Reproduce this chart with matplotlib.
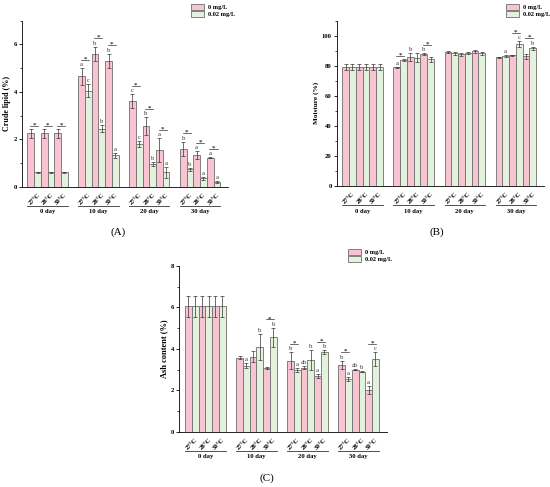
'''Bar charts of crude lipid, moisture and ash content by day and temperature'''
import matplotlib
matplotlib.use("Agg")
import matplotlib.pyplot as plt
from matplotlib.ticker import MultipleLocator
import numpy as np

#Labels shared by the three panels
DAYS = ["0 day", "10 day", "20 day", "30 day"]
TEMPS = ["27°C", "28°C", "30°C"]
SERIES = ["0 mg/L", "0.02 mg/L"]

#Crude lipid (%) - 4 days x 3 temps
LIPID_0 = [2.25, 2.25, 2.25, 4.65, 5.6, 5.3, 3.6, 2.55, 1.55, 1.6, 1.32, 1.22]
LIPID_0_ERR = [0.2, 0.2, 0.2, 0.35, 0.3, 0.3, 0.3, 0.38, 0.5, 0.3, 0.17, 0.03]
LIPID_002 = [0.6, 0.6, 0.6, 4.05, 2.45, 1.32, 1.8, 0.95, 0.6, 0.73, 0.35, 0.2]
LIPID_002_ERR = [0.02, 0.02, 0.02, 0.28, 0.15, 0.12, 0.12, 0.08, 0.22, 0.05, 0.05, 0.04]
LIPID_0_LET = ["", "", "", "a", "b", "b", "c", "b", "a", "b", "a", "a"]
LIPID_002_LET = ["", "", "", "c", "b", "a", "c", "b", "a", "b", "a", "a"]
LIPID_STARS = [True] * 12

#Moisture (%)
MOIST_0 = [79, 79, 79, 79, 86, 87.8, 89.3, 87.6, 89.6, 85.8, 86.9, 86.2]
MOIST_0_ERR = [2, 2, 2, 0.5, 2.5, 0.7, 0.5, 1, 0.8, 0.3, 0.3, 1.5]
MOIST_002 = [79, 79, 79, 84, 85.5, 84.3, 88.4, 88.4, 88.2, 86.7, 94.2, 91.8]
MOIST_002_ERR = [2, 2, 2, 0.5, 3, 1.5, 1, 0.7, 0.7, 0.7, 2, 1]
MOIST_0_LET = ["", "", "", "a", "b", "b", "", "", "", "", "", ""]
MOIST_002_LET = ["", "", "", "", "", "", "", "", "", "a", "c", "b"]
MOIST_STARS = [False, False, False, True, False, True,
               False, False, False, False, True, True]

#Ash content (%)
ASH_0 = [6.05, 6.05, 6.05, 3.58, 3.62, 3.06, 3.43, 3.1, 2.69, 3.22, 3.0, 2.0]
ASH_0_ERR = [0.5, 0.5, 0.5, 0.07, 0.27, 0.05, 0.4, 0.08, 0.1, 0.2, 0.03, 0.2]
ASH_002 = [6.05, 6.05, 6.05, 3.18, 4.1, 4.56, 2.98, 3.46, 3.85, 2.53, 2.9, 3.5]
ASH_002_ERR = [0.5, 0.5, 0.5, 0.12, 0.62, 0.45, 0.08, 0.5, 0.08, 0.1, 0.04, 0.33]
ASH_0_LET = ["", "", "", "", "", "", "b", "ab", "a", "b", "ab", "a"]
ASH_002_LET = ["", "", "", "a", "b", "b", "a", "b", "b", "a", "b", "c"]
ASH_STARS = [False, False, False, False, False, True,
             True, False, True, True, False, True]

PINK = "#F8C4D2"
GREEN = "#E2F2DC"
EDGE = "#6E6E6E"
INK = "#333333"

#Distance between the starts of two day groups, in bar widths
GROUP_STEP = 7.55

plt.rcParams['font.family'] = ['Liberation Serif', 'DejaVu Serif']
plt.rcParams['font.weight'] = 'bold'


def bar_positions():
    '''x of the pink bars, green bars and pair centres'''
    starts = np.repeat(np.arange(4) * GROUP_STEP, 3) + np.tile([0, 2, 4], 4)
    return starts + 0.5, starts + 1.5, starts + 1.0


def plot_panel(ax, pink, pink_err, green, green_err, pink_let, green_let,
               stars, ymax, major, ylabel, ylabel_size):
    '''Draws one grouped bar panel with letters and significance marks'''
    xp, xg, xc = bar_positions()
    ekw = dict(ecolor=INK, elinewidth=0.5, capsize=1.5, capthick=0.5)
    ax.bar(xp, pink, width=1, yerr=pink_err, color=PINK, edgecolor=EDGE,
           linewidth=0.6, error_kw=ekw, label=SERIES[0])
    ax.bar(xg, green, width=1, yerr=green_err, color=GREEN, edgecolor=EDGE,
           linewidth=0.6, error_kw=ekw, label=SERIES[1])

    #Letters above error bars, star with a line above each marked pair
    for i in range(12):
        tops = []
        for x, m, e, lab in ((xp[i], pink[i], pink_err[i], pink_let[i]),
                             (xg[i], green[i], green_err[i], green_let[i])):
            top = m + e + 0.006 * ymax
            if lab:
                ax.text(x, top, lab, ha='center', va='bottom', fontsize=4.8,
                        fontweight='normal', color=INK)
                top += 0.035 * ymax
            tops.append(top)
        if stars[i]:
            y = max(tops) + 0.01 * ymax
            ax.plot([xp[i] - 0.1, xg[i] + 0.1], [y, y], color=INK, lw=0.5)
            ax.text(xc[i], y - 0.01 * ymax, '*', ha='center', va='bottom',
                    fontsize=5, color=INK)

    ax.set_xlim(-0.85, 3 * GROUP_STEP + 6 + 1.15)
    ax.set_ylim(0, ymax)
    ax.yaxis.set_major_locator(MultipleLocator(major))
    ax.yaxis.set_minor_locator(MultipleLocator(major / 2))
    ax.spines[['top', 'right']].set_visible(False)
    ax.spines[['left', 'bottom']].set_linewidth(0.6)
    ax.tick_params(axis='y', labelsize=4.8, width=0.6, length=2, pad=1.5)
    ax.tick_params(axis='y', which='minor', width=0.5, length=1.2)
    ax.set_xticks(xc)
    ax.set_xticklabels(TEMPS * 4, rotation=45, ha='center', fontsize=4.8)
    ax.tick_params(axis='x', length=0, pad=4)
    ax.set_ylabel(ylabel, fontsize=ylabel_size, fontweight='bold', labelpad=2)

    #Day group lines and names under the temperature labels
    trans = ax.get_xaxis_transform()
    for g, day in enumerate(DAYS):
        x0 = g * GROUP_STEP
        ax.plot([x0, x0 + 6], [-0.116, -0.116], color=INK, lw=0.6,
                transform=trans, clip_on=False)
        ax.text(x0 + 3, -0.152, day, ha='center', va='center', fontsize=4.8,
                transform=trans)


def add_legend(fig, ax, x, y):
    '''Legend placed in figure pixels from top-left'''
    ax.legend(loc='upper left', bbox_to_anchor=(x / 550, 1 - y / 487),
              bbox_transform=fig.transFigure, frameon=False, fontsize=4.6,
              handlelength=2.1, handleheight=1.0, labelspacing=0.15,
              handletextpad=0.5, borderpad=0, borderaxespad=0)


fig = plt.figure(figsize=(5.5, 4.87), dpi=100)
ax_a = fig.add_axes([0.0395, 0.6166, 0.375, 0.341])
ax_b = fig.add_axes([0.612, 0.618, 0.377, 0.3395])
ax_c = fig.add_axes([0.326, 0.1135, 0.377, 0.3403])

plot_panel(ax_a, LIPID_0, LIPID_0_ERR, LIPID_002, LIPID_002_ERR,
           LIPID_0_LET, LIPID_002_LET, LIPID_STARS, 7, 2, "Crude lipid (%)", 5.8)
plot_panel(ax_b, MOIST_0, MOIST_0_ERR, MOIST_002, MOIST_002_ERR,
           MOIST_0_LET, MOIST_002_LET, MOIST_STARS, 110, 20, "Moisture (%)", 5.2)
plot_panel(ax_c, ASH_0, ASH_0_ERR, ASH_002, ASH_002_ERR,
           ASH_0_LET, ASH_002_LET, ASH_STARS, 8, 2, "Ash content (%)", 6)

add_legend(fig, ax_a, 191, 4)
add_legend(fig, ax_b, 506, 4)
add_legend(fig, ax_c, 348, 249)

#Panel letters
for label, px, py in (("(A)", 118, 232), ("(B)", 437, 232), ("(C)", 267, 478)):
    fig.text(px / 550, 1 - py / 487, label, ha='center', va='center',
             fontsize=8, fontweight='normal')

fig.savefig("out.png", dpi=100)
plt.close(fig)
